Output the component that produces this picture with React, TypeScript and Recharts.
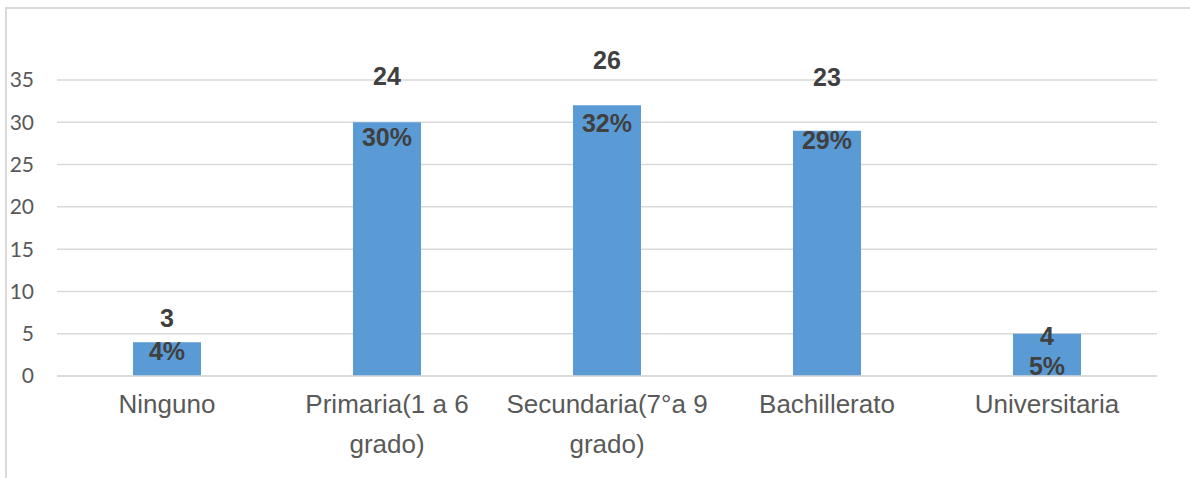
import { BarChart, Bar, XAxis, YAxis, CartesianGrid, LabelList } from 'recharts'

const categories = ['Ninguno', 'Primaria(1 a 6 grado)', 'Secundaria(7°a 9 grado)', 'Bachillerato', 'Universitaria']
const percentages = [4, 30, 32, 29, 5]
const counts = [3, 24, 26, 23, 4]
const yTicks = [0, 5, 10, 15, 20, 25, 30, 35]

// label placement relative to each bar top (px), as hand-placed in the sheet
const countOffsets = [24, 46, 45, 54, -2]
const pctOffsets = [9, 15, 18, 9, 32]

const data = categories.map((name, i) => ({
  name,
  pct: percentages[i],
  count: counts[i],
}))

const labelFont = '"Liberation Sans", Arial, sans-serif'
const tickFontSize = 26

let measureCtx: CanvasRenderingContext2D | null = null
function textWidth(s: string) {
  if (!measureCtx) measureCtx = document.createElement('canvas').getContext('2d')
  if (!measureCtx) return s.length * tickFontSize * 0.5
  measureCtx.font = `${tickFontSize}px ${labelFont}`
  return measureCtx.measureText(s).width
}

// word-wrap a category name into lines no wider than maxWidth
function wrapLines(label: string, maxWidth: number) {
  const lines: string[] = []
  let current = ''
  for (const word of label.split(' ')) {
    const next = current ? `${current} ${word}` : word
    if (current && textWidth(next) > maxWidth) {
      lines.push(current)
      current = word
    } else {
      current = next
    }
  }
  if (current) lines.push(current)
  return lines
}

function CategoryTick(props: any) {
  const { x, y, payload } = props
  const lines = wrapLines(String(payload.value), 210)
  return (
    <text
      x={x}
      y={y}
      textAnchor="middle"
      fontSize={tickFontSize}
      fontFamily={labelFont}
      fill="#595959"
    >
      {lines.map((line, i) => (
        <tspan key={i} x={x} y={y + 37 + i * 40}>
          {line}
        </tspan>
      ))}
    </text>
  )
}

function CountLabel(props: any) {
  const { x, y, width, index } = props
  return (
    <text
      x={x + width / 2}
      y={y - countOffsets[index]}
      textAnchor="middle"
      dominantBaseline="central"
      fontSize={25}
      fontWeight="bold"
      fontFamily={labelFont}
      fill="#404040"
    >
      {counts[index]}
    </text>
  )
}

function PctLabel(props: any) {
  const { x, y, width, index, value } = props
  return (
    <text
      x={x + width / 2}
      y={y + pctOffsets[index]}
      textAnchor="middle"
      dominantBaseline="central"
      fontSize={25}
      fontWeight="bold"
      fontFamily={labelFont}
      fill="#404040"
    >
      {value}%
    </text>
  )
}

export default function App() {
  return (
    <div style={{ position: 'absolute', left: 0, top: 0, width: 1190, height: 478, overflow: 'hidden', background: '#fff' }}>
      <div
        style={{
          position: 'absolute',
          left: 5,
          top: 7,
          width: 1220,
          height: 520,
          border: '2px solid #d9d9d9',
          boxSizing: 'border-box',
        }}
      />
      <BarChart
        width={1190}
        height={478}
        data={data}
        margin={{ top: 80, right: 33, bottom: 2, left: 0 }}
        style={{ position: 'absolute', left: 0, top: 0 }}
      >
        <CartesianGrid vertical={false} stroke="#d9d9d9" strokeWidth={1.5} />
        <XAxis
          dataKey="name"
          height={100}
          axisLine={{ stroke: '#d9d9d9', strokeWidth: 1.5 }}
          tickLine={false}
          tickSize={0}
          tickMargin={0}
          interval={0}
          tick={<CategoryTick />}
        />
        <YAxis
          width={57}
          domain={[0, 35]}
          ticks={yTicks}
          axisLine={false}
          tickLine={false}
          tickSize={0}
          tickMargin={23}
          tick={{ fontSize: 21, fill: '#595959', fontFamily: 'Lato, sans-serif' }}
        />
        <Bar dataKey="pct" fill="#5B9BD5" barSize={68} isAnimationActive={false}>
          <LabelList dataKey="count" content={<CountLabel />} />
          <LabelList dataKey="pct" content={<PctLabel />} />
        </Bar>
      </BarChart>
    </div>
  )
}
